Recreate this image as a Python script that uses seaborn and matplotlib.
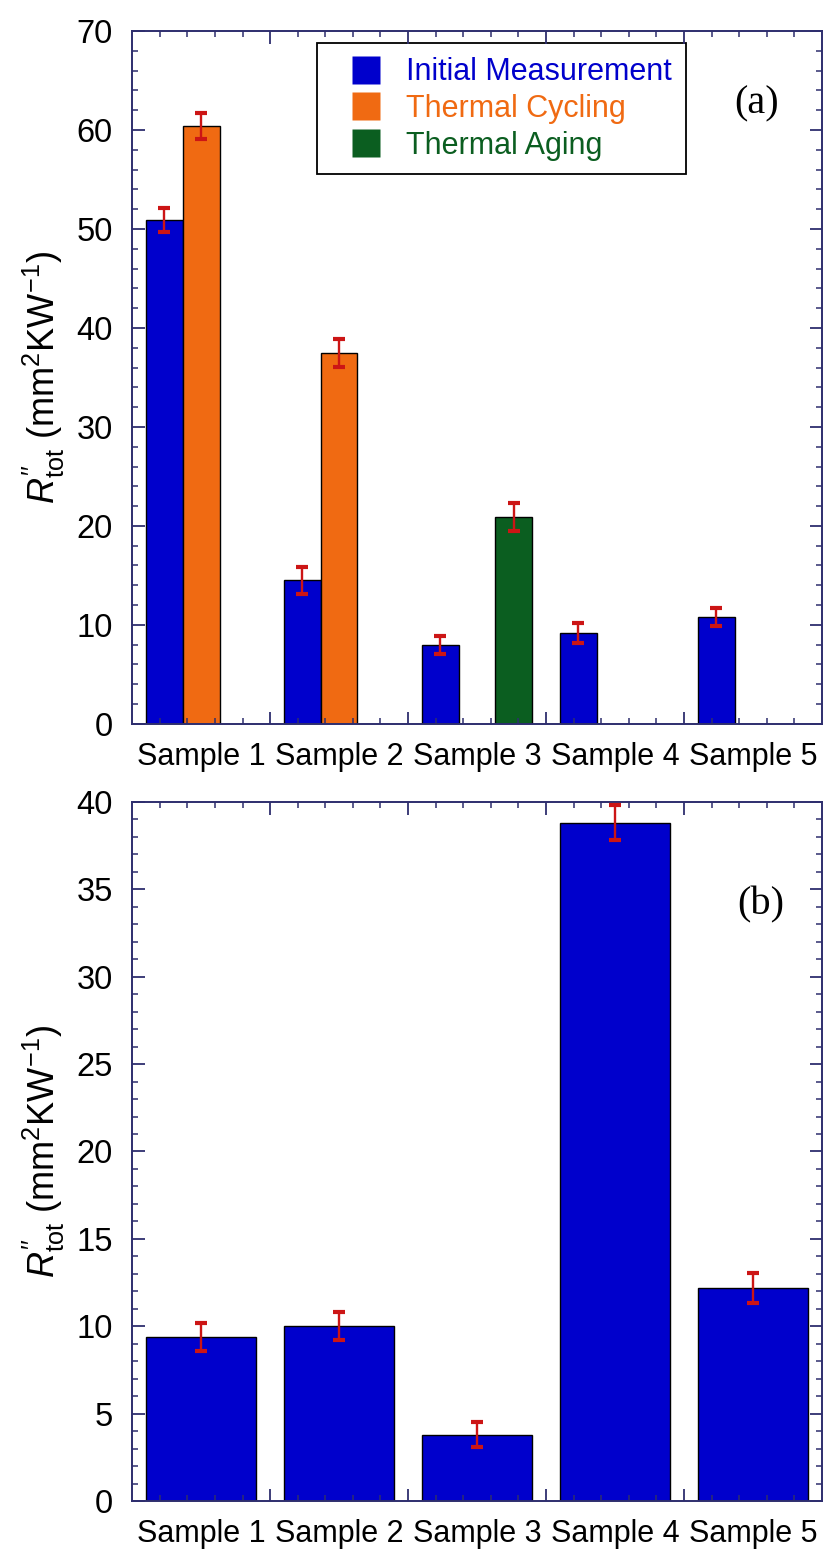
import numpy as np
import pandas as pd
import matplotlib
matplotlib.use("Agg")
import matplotlib.pyplot as plt
import seaborn as sns
from matplotlib.ticker import MultipleLocator, FixedLocator
from matplotlib.lines import Line2D

# ---------------- data ----------------
samples = ["Sample 1", "Sample 2", "Sample 3", "Sample 4", "Sample 5"]
conditions = ["Initial Measurement", "Thermal Cycling", "Thermal Aging"]

# panel (a)
a_sample = ["Sample 1", "Sample 1", "Sample 2", "Sample 2", "Sample 3", "Sample 3", "Sample 4", "Sample 5"]
a_condition = ["Initial Measurement", "Thermal Cycling", "Initial Measurement", "Thermal Cycling",
               "Initial Measurement", "Thermal Aging", "Initial Measurement", "Initial Measurement"]
a_value = [50.9, 60.4, 14.5, 37.5, 8.0, 20.9, 9.2, 10.8]
a_error = [1.2, 1.3, 1.35, 1.4, 0.9, 1.45, 1.0, 0.9]

# panel (b)
b_value = [9.4, 10.0, 3.8, 38.8, 12.2]
b_error = [0.8, 0.8, 0.7, 1.0, 0.85]

colors = ["#0000CC", "#F06A12", "#0B5E20"]
err_color = "#CC1515"
axis_color = "#2E2E6E"

# ---------------- style ----------------
sns.set_style("white")
plt.rcParams["font.family"] = ["Liberation Sans", "DejaVu Sans"]
plt.rcParams["mathtext.fontset"] = "custom"
plt.rcParams["mathtext.rm"] = "Liberation Sans"
plt.rcParams["mathtext.it"] = "Liberation Sans:italic"
plt.rcParams["text.color"] = "black"
plt.rcParams["axes.labelcolor"] = "black"
plt.rcParams["xtick.labelcolor"] = "black"
plt.rcParams["ytick.labelcolor"] = "black"

fig = plt.figure(figsize=(8.26, 15.5), dpi=100)
ax_a = fig.add_axes([0.160, 0.533, 0.835, 0.447])
ax_b = fig.add_axes([0.160, 0.0316, 0.835, 0.451])

df_a = pd.DataFrame({"Sample": a_sample, "Condition": a_condition, "Value": a_value, "Err": a_error})
df_b = pd.DataFrame({"Sample": samples, "Value": b_value, "Err": b_error})

sns.barplot(data=df_a, x="Sample", y="Value", hue="Condition", order=samples,
            hue_order=conditions, palette=colors, errorbar=None, edgecolor="black",
            linewidth=1.0, saturation=1, width=0.8, legend=False, ax=ax_a)
sns.barplot(data=df_b, x="Sample", y="Value", order=samples, color=colors[0],
            errorbar=None, edgecolor="black", linewidth=1.0, saturation=1, width=0.8, ax=ax_b)


def add_errorbars(ax, df):
    for p in ax.patches:
        h = p.get_height()
        if not np.isfinite(h) or h <= 0:
            continue
        cx = p.get_x() + p.get_width() / 2
        idx = np.where(np.isclose(df["Value"].values, h))[0]
        if len(idx) == 0:
            continue
        e = df["Err"].values[idx[0]]
        ax.errorbar(cx, h, yerr=e, fmt="none", ecolor=err_color, elinewidth=1.7,
                    capsize=4.5, capthick=3.0, zorder=5)


add_errorbars(ax_a, df_a)
add_errorbars(ax_b, df_b)

ylabel = r"$R^{\prime\prime}_{\mathrm{tot}}$ (mm$^{2}$KW$^{-1}$)"


def style_axes(ax, ymax, ymajor, yminor):
    ax.set_xlim(-0.5, 4.5)
    ax.set_ylim(0, ymax)
    ax.set_xlabel("")
    ax.set_ylabel(ylabel, fontsize=26)
    ax.yaxis.set_label_coords(-0.094, 0.5)
    ax.yaxis.set_major_locator(MultipleLocator(ymajor))
    ax.yaxis.set_minor_locator(MultipleLocator(yminor))
    ax.tick_params(axis="y", which="both", direction="in", left=True, right=True,
                   color=axis_color, labelsize=23.5, pad=14)
    ax.tick_params(axis="y", which="major", length=9, width=1.3)
    ax.tick_params(axis="y", which="minor", length=4.5, width=1.1)
    ax.set_xticks(range(len(samples)))
    ax.set_xticklabels(samples)
    ax.tick_params(axis="x", which="major", length=0, labelsize=22, pad=13)
    for s in ax.spines.values():
        s.set_visible(True)
        s.set_color(axis_color)
        s.set_linewidth(1.4)
    # boundary ticks on a twin axis
    tw = ax.twiny()
    tw.set_xlim(ax.get_xlim())
    tw.xaxis.set_major_locator(FixedLocator([0.5, 1.5, 2.5, 3.5]))
    tw.xaxis.set_minor_locator(FixedLocator(np.arange(-0.3, 4.5, 0.2)))
    tw.tick_params(axis="x", which="both", direction="in", top=True, bottom=True,
                   labeltop=False, labelbottom=False, color=axis_color)
    tw.tick_params(axis="x", which="major", length=9, width=1.3)
    tw.tick_params(axis="x", which="minor", length=4.5, width=1.1)
    for s in tw.spines.values():
        s.set_visible(False)
    return tw


style_axes(ax_a, 70, 10, 2)
style_axes(ax_b, 40, 5, 1)

# legend (square markers)
handles = [Line2D([], [], linestyle="none", marker="s", markersize=19.5,
                  markerfacecolor=c, markeredgecolor="none") for c in colors]
leg = ax_a.legend(handles, conditions, loc="upper left", bbox_to_anchor=(0.268, 0.982),
                  fontsize=22, frameon=True, fancybox=False, edgecolor="black",
                  handlelength=2.3, handletextpad=0.17,
                  labelspacing=0.22, borderpad=0.45, borderaxespad=0)
leg.get_frame().set_linewidth(1.3)
leg.get_frame().set_alpha(1)
for t, c in zip(leg.get_texts(), colors):
    t.set_color(c)

ax_a.text(0.905, 0.895, "(a)", transform=ax_a.transAxes, fontsize=29,
          family="Liberation Serif", ha="center", va="center")
ax_b.text(0.912, 0.853, "(b)", transform=ax_b.transAxes, fontsize=29,
          family="Liberation Serif", ha="center", va="center")

fig.savefig("out.png", dpi=100, facecolor="white")
